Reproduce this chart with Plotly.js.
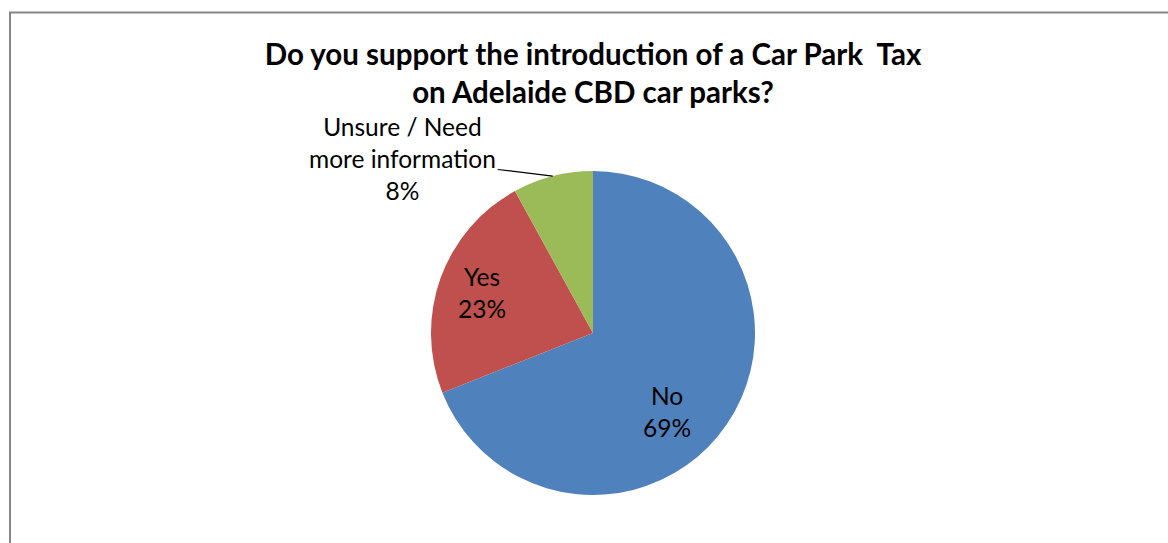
<!DOCTYPE html>
<html>
<head>
<meta charset="utf-8">
<script src="https://cdn.plot.ly/plotly-3.0.1.min.js"></script>
<style>
html,body{margin:0;padding:0;background:#fff;}
#chart{width:1168px;height:543px;}
</style>
</head>
<body>
<div id="chart"></div>
<script>
const categories = ["No", "Yes", "Unsure / Need<br>more information"];
const values = [69, 23, 8];
const colors = ["#4F81BD", "#C0504D", "#9BBB59"];
const titleText = "Do you support the introduction of a Car Park  Tax<br>on Adelaide CBD car parks?";

const W = 1168, H = 543;
const cx = 593, cy = 333, R = 162;
const FONT = "Lato, 'Open Sans', sans-serif";

const total = values.reduce((a, b) => a + b, 0);
const pctText = values.map(v => Math.round(v / total * 100) + "%");
const texts = categories.map((c, i) => c + "<br>" + pctText[i]);

// mid-angles of slices (clockwise from 12 o'clock)
const mids = [];
let cum = 0;
values.forEach(v => { mids.push((cum + v / 2) / total * 2 * Math.PI); cum += v; });

// label placement styles (inside labels: radius fraction + pixel nudge)
const labelRadius = [0.66, 0.73];
const labelShift = [[-14, 18], [0, 0]];

const annotations = [];
for (let i = 0; i < 2; i++) {
  const r = R * labelRadius[i];
  const px = cx + r * Math.sin(mids[i]) + labelShift[i][0];
  const py = cy - r * Math.cos(mids[i]) + labelShift[i][1];
  annotations.push({
    xref: "paper", yref: "paper", x: px / W, y: 1 - py / H,
    xanchor: "center", yanchor: "middle",
    text: texts[i], showarrow: false, align: "center",
    font: {family: FONT, size: 24.5, color: "#000"}
  });
}
// outside label for last slice with leader line
const li = values.length - 1;
const ptx = cx + R * Math.sin(mids[li]);
const pty = cy - R * Math.cos(mids[li]);
annotations.push({
  xref: "paper", yref: "paper",
  x: ptx / W, y: 1 - pty / H,
  ax: -150, ay: -18, axref: "pixel", ayref: "pixel",
  text: texts[li],
  showarrow: true, arrowhead: 0, arrowwidth: 1.2, arrowcolor: "#000", standoff: 0,
  font: {family: FONT, size: 24.5, color: "#000"},
  align: "center"
});

const trace = {
  type: "pie",
  labels: categories,
  values: values,
  sort: false,
  direction: "clockwise",
  rotation: 0,
  marker: {colors: colors, line: {width: 0}},
  textinfo: "none",
  hoverinfo: "label+percent",
  domain: {x: [(cx - R) / W, (cx + R) / W], y: [1 - (cy + R) / H, 1 - (cy - R) / H]},
  showlegend: false
};

const layout = {
  width: W, height: H,
  margin: {l: 0, r: 0, t: 0, b: 0},
  paper_bgcolor: "#fff",
  title: {
    text: titleText,
    font: {family: FONT, size: 29.5, color: "#000", weight: "bold"},
    x: cx / W, xanchor: "center",
    y: 1 - 65 / H, yanchor: "top", yref: "container"
  },
  showlegend: false,
  shapes: [{
    type: "rect", xref: "paper", yref: "paper",
    x0: 10 / W, x1: 1.05, y0: -0.05, y1: 1 - 12.5 / H,
    line: {color: "#868686", width: 2}, fillcolor: "rgba(0,0,0,0)"
  }],
  annotations: annotations
};

Plotly.newPlot("chart", [trace], layout, {displayModeBar: false, staticPlot: true});
</script>
</body>
</html>
